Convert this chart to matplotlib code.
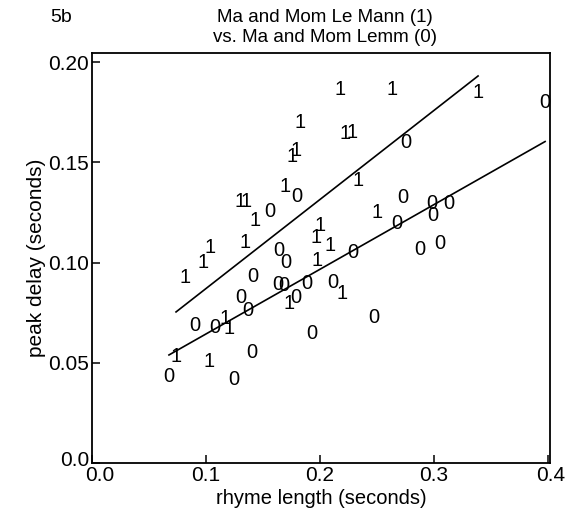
import matplotlib
matplotlib.use("Agg")
import matplotlib.pyplot as plt
import matplotlib.transforms as mtransforms
import numpy as np

plt.rcParams["font.family"] = ["Liberation Sans", "DejaVu Sans"]

# Group 1: Ma and Mom Le Mann
rhyme_1 = [0.2175, 0.2632, 0.3386, 0.1825, 0.2219, 0.2281, 0.1754, 0.1789,
           0.2333, 0.1693, 0.1298, 0.1351, 0.2500, 0.1430, 0.2000, 0.1965,
           0.2088, 0.1035, 0.1342, 0.1974, 0.0974, 0.0816, 0.2193, 0.1728,
           0.1167, 0.1202, 0.0737, 0.1026]
delay_1 = [0.1865, 0.1865, 0.1850, 0.1696, 0.1641, 0.1646, 0.1531, 0.1561,
           0.1411, 0.1377, 0.1302, 0.1302, 0.1247, 0.1212, 0.1187, 0.1127,
           0.1087, 0.1077, 0.1102, 0.1012, 0.1002, 0.0923, 0.0843, 0.0798,
           0.0723, 0.0673, 0.0529, 0.0504]

# Group 0: Ma and Mom Lemm
rhyme_0 = [0.3974, 0.2754, 0.1798, 0.2728, 0.2982, 0.3132, 0.1561, 0.2991,
           0.2675, 0.3053, 0.2877, 0.1640, 0.2289, 0.1702, 0.1412, 0.1632,
           0.1684, 0.1886, 0.2114, 0.1789, 0.1307, 0.1368, 0.2474, 0.0904,
           0.1079, 0.1930, 0.1404, 0.0675, 0.1246]
delay_0 = [0.1800, 0.1601, 0.1327, 0.1322, 0.1292, 0.1292, 0.1252, 0.1232,
           0.1197, 0.1097, 0.1067, 0.1062, 0.1052, 0.0998, 0.0928, 0.0888,
           0.0883, 0.0893, 0.0898, 0.0823, 0.0823, 0.0763, 0.0728, 0.0688,
           0.0678, 0.0648, 0.0549, 0.0429, 0.0414]

# Regression lines (slope, intercept) for each group
fit_1 = (0.4443, 0.0426)
fit_0 = (0.3227, 0.0321)

x_ticks = [0.0, 0.1, 0.2, 0.3, 0.4]
x_tick_labels = ["0.0", "0.1", "0.2", "0.3", "0.4"]
y_ticks = [0.0, 0.05, 0.10, 0.15, 0.20]
y_tick_labels = ["0.0", "0.05", "0.10", "0.15", "0.20"]

fig = plt.figure(figsize=(5.67, 5.09), dpi=100)
ax = fig.add_axes([92 / 567, 1 - 463 / 509, 458 / 567, 410 / 509])
ax.set_xlim(0, 0.4017)
ax.set_ylim(0, 0.2045)

for xs, ys, lab in ((rhyme_1, delay_1, "1"), (rhyme_0, delay_0, "0")):
    for x, y in zip(xs, ys):
        ax.text(x, y, lab, ha="center", va="center", fontsize=14.5,
                color="black")

for xs, (m, b) in ((rhyme_1, fit_1), (rhyme_0, fit_0)):
    lx = np.array([min(xs), max(xs)])
    ax.plot(lx, m * lx + b, color="black", lw=1.2)

ax.set_xticks(x_ticks)
ax.set_xticklabels(x_tick_labels)
ax.set_yticks(y_ticks)
ax.set_yticklabels(y_tick_labels)
ax.tick_params(direction="in", length=6, width=1.1, labelsize=15, pad=2)
for s in ax.spines.values():
    s.set_linewidth(1.3)

# nudge the corner labels apart so the two "0.0" labels do not collide
xl = ax.get_xticklabels()
xl[0].set_transform(xl[0].get_transform() +
                    mtransforms.ScaledTranslation(8 / 100, 0, fig.dpi_scale_trans))
xl[-1].set_transform(xl[-1].get_transform() +
                     mtransforms.ScaledTranslation(3 / 100, 0, fig.dpi_scale_trans))
yl = ax.get_yticklabels()
yl[0].set_transform(yl[0].get_transform() +
                    mtransforms.ScaledTranslation(0, 4 / 100, fig.dpi_scale_trans))

ax.set_xlabel("rhyme length (seconds)", fontsize=14.5, labelpad=3)
ax.set_ylabel("peak delay (seconds)", fontsize=15, labelpad=2)

fig.text(325 / 567, 1 - 17 / 509, "Ma and Mom Le Mann (1)", ha="center",
         va="center", fontsize=13.5)
fig.text(325 / 567, 1 - 38 / 509, "vs. Ma and Mom Lemm (0)", ha="center",
         va="center", fontsize=13.5)
fig.text(61 / 567, 1 - 17 / 509, "5b", ha="center", va="center", fontsize=14)

fig.savefig("out.png", dpi=100)
